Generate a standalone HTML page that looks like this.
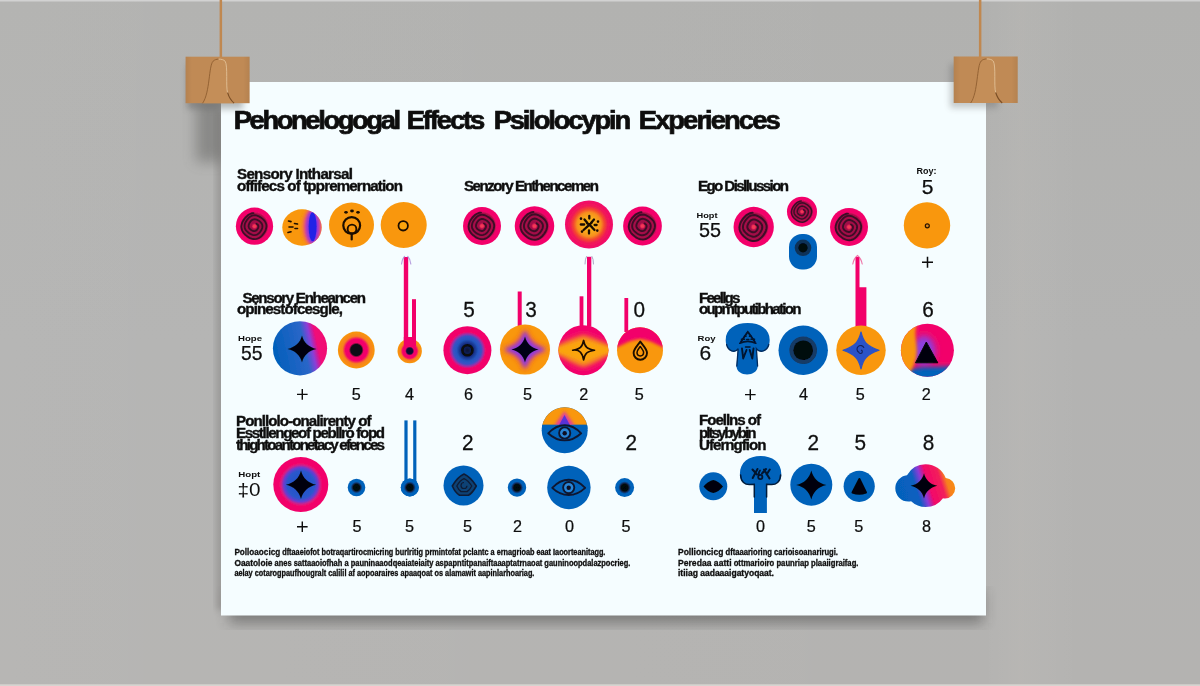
<!DOCTYPE html>
<html><head><meta charset="utf-8">
<style>
html,body{margin:0;padding:0;background:#b2b2b0;}
body{width:1200px;height:686px;overflow:hidden;font-family:"Liberation Sans",sans-serif;}
svg{display:block}
text{font-family:"Liberation Sans",sans-serif;fill:#0b0b0b}
.h{font-weight:bold;font-size:14px;stroke:#0b0b0b;stroke-width:0.35px}
.n{font-size:21px;stroke:#0b0b0b;stroke-width:0.25px}
.n2{font-size:22.6px;stroke:#0b0b0b;stroke-width:0.25px}
.l{font-size:16.2px;stroke:#0b0b0b;stroke-width:0.2px}
.s{font-size:8px;font-weight:bold}
.f{font-size:8.5px;font-weight:bold;stroke:#0b0b0b;stroke-width:0.3px}
</style></head><body>
<svg width="1200" height="686" viewBox="0 0 1200 686">
<defs>
<linearGradient id="wall" x1="0" y1="0" x2="0" y2="1"><stop offset="0" stop-color="#b1b1af"/><stop offset="0.5" stop-color="#b3b3b2"/><stop offset="1" stop-color="#b4b3b1"/></linearGradient><linearGradient id="wall2" x1="0" y1="0" x2="1" y2="0"><stop offset="0" stop-color="#ffffff" stop-opacity="0.04"/><stop offset="0.15" stop-color="#ffffff" stop-opacity="0.03"/><stop offset="0.82" stop-color="#ffffff" stop-opacity="0"/><stop offset="0.85" stop-color="#fff0e0" stop-opacity="0.05"/><stop offset="0.9" stop-color="#ffffff" stop-opacity="0"/></linearGradient>
<filter id="sh" x="-10%" y="-10%" width="120%" height="130%"><feGaussianBlur stdDeviation="7"/></filter>
<filter id="sh5" x="-30%" y="-60%" width="160%" height="220%"><feGaussianBlur stdDeviation="5"/></filter>
<filter id="sh7" x="-100%" y="-50%" width="300%" height="200%"><feGaussianBlur stdDeviation="7"/></filter>
<filter id="sh2" x="-30%" y="-30%" width="160%" height="180%"><feGaussianBlur stdDeviation="3"/></filter>
<filter id="b1"><feGaussianBlur stdDeviation="0.45"/></filter>
<filter id="b2" x="-50%" y="-50%" width="200%" height="200%"><feGaussianBlur stdDeviation="2"/></filter>
<filter id="b15" x="-50%" y="-50%" width="200%" height="200%"><feGaussianBlur stdDeviation="1.5"/></filter>
<filter id="b3" x="-50%" y="-50%" width="200%" height="200%"><feGaussianBlur stdDeviation="3"/></filter>
<filter id="b4" x="-50%" y="-50%" width="200%" height="200%"><feGaussianBlur stdDeviation="4.5"/></filter>
<radialGradient id="gSun"><stop offset="0" stop-color="#fbbc1c"/><stop offset="0.3" stop-color="#f9aa1c"/><stop offset="0.5" stop-color="#f7901f"/><stop offset="0.64" stop-color="#f4482e"/><stop offset="0.78" stop-color="#f01858"/><stop offset="1" stop-color="#f2066a"/></radialGradient>
<linearGradient id="gBP" x1="0" y1="0.22" x2="1" y2="0"><stop offset="0" stop-color="#0560bc"/><stop offset="0.5" stop-color="#2a66c8"/><stop offset="0.63" stop-color="#8a3fd8"/><stop offset="0.74" stop-color="#f0087a"/><stop offset="1" stop-color="#f2066a"/></linearGradient>
<radialGradient id="gOPK"><stop offset="0" stop-color="#0a0812"/><stop offset="0.3" stop-color="#0a0812"/><stop offset="0.4" stop-color="#f2066a"/><stop offset="0.6" stop-color="#f2066a"/><stop offset="0.75" stop-color="#f6801f"/><stop offset="1" stop-color="#f99709"/></radialGradient>
<radialGradient id="gOPK2"><stop offset="0" stop-color="#0a0a2a"/><stop offset="0.24" stop-color="#10103a"/><stop offset="0.36" stop-color="#f2066a"/><stop offset="0.58" stop-color="#f2066a"/><stop offset="0.75" stop-color="#f6801f"/><stop offset="1" stop-color="#f99709"/></radialGradient>
<radialGradient id="gPBK"><stop offset="0" stop-color="#0a1230"/><stop offset="0.28" stop-color="#152c80"/><stop offset="0.45" stop-color="#2456c0"/><stop offset="0.58" stop-color="#3a52c4"/><stop offset="0.67" stop-color="#9a30a8"/><stop offset="0.76" stop-color="#f2066a"/><stop offset="1" stop-color="#f2066a"/></radialGradient>
<radialGradient id="gPB3"><stop offset="0" stop-color="#2050c8"/><stop offset="0.5" stop-color="#2a58cc"/><stop offset="0.62" stop-color="#6a3cd0"/><stop offset="0.71" stop-color="#d0208a"/><stop offset="0.78" stop-color="#f2066a"/><stop offset="1" stop-color="#f2066a"/></radialGradient>
<linearGradient id="gBlob" x1="0" y1="0" x2="1" y2="0" gradientTransform="rotate(-13 0.5 0.5)"><stop offset="0" stop-color="#0562ba"/><stop offset="0.36" stop-color="#0860c0"/><stop offset="0.47" stop-color="#8a3ad8"/><stop offset="0.56" stop-color="#f2066a"/><stop offset="0.74" stop-color="#f2205a"/><stop offset="0.82" stop-color="#f7801e"/><stop offset="1" stop-color="#f99709"/></linearGradient>
<g id="eye">
  <path d="M-16.5,0.3 C-10,-6.5 -4,-7.8 0,-7.8 C5,-7.8 11,-5.5 16.5,0.3 C11,5.5 5,7.4 0,7.4 C-4,7.4 -10,6.5 -16.5,0.3Z" fill="none" stroke="#0b1830" stroke-width="1.9" stroke-linejoin="round"/>
  <circle cx="0" cy="0" r="5.6" fill="#2a84d6" stroke="#0b1830" stroke-width="1.9"/>
  <circle cx="0" cy="0.2" r="2.2" fill="#0b1020"/>
</g>
<radialGradient id="gOPK3"><stop offset="0" stop-color="#0a0a2a"/><stop offset="0.4" stop-color="#10103a"/><stop offset="0.6" stop-color="#f2066a"/><stop offset="1" stop-color="#f2066a"/></radialGradient>
<radialGradient id="gDot"><stop offset="0" stop-color="#05060a"/><stop offset="0.36" stop-color="#06080e"/><stop offset="0.5" stop-color="#0a2e60"/><stop offset="0.66" stop-color="#0562ba"/><stop offset="1" stop-color="#0562ba"/></radialGradient>
<!-- gradients -->
<radialGradient id="gPinkSp"><stop offset="0" stop-color="#f03a5a"/><stop offset="0.1" stop-color="#d81c54"/><stop offset="0.17" stop-color="#a00a46"/><stop offset="0.68" stop-color="#aa0a4a"/><stop offset="0.77" stop-color="#f2066a"/><stop offset="1" stop-color="#f3066a"/></radialGradient>
<g id="spiral">
  <circle r="19" fill="url(#gPinkSp)"/>
  <path d="M2.0,-2.5 L2.4,-2.3 L2.7,-2.0 L3.1,-1.7 L3.4,-1.4 L3.7,-1.0 L3.9,-0.5 L4.0,-0.0 L4.0,0.5 L3.9,1.0 L3.8,1.5 L3.6,2.0 L3.3,2.5 L3.1,2.9 L2.7,3.4 L2.3,3.9 L1.9,4.3 L1.4,4.6 L0.8,4.8 L0.2,5.0 L-0.5,5.0 L-1.1,4.9 L-1.7,4.7 L-2.3,4.5 L-2.9,4.2 L-3.5,3.8 L-4.0,3.4 L-4.6,3.0 L-5.1,2.4 L-5.5,1.8 L-5.8,1.1 L-6.0,0.4 L-6.0,-0.4 L-5.9,-1.2 L-5.7,-1.9 L-5.4,-2.6 L-5.1,-3.3 L-4.7,-4.0 L-4.2,-4.6 L-3.7,-5.3 L-3.1,-5.8 L-2.3,-6.4 L-1.5,-6.7 L-0.7,-7.0 L0.2,-7.1 L1.1,-7.0 L2.0,-6.7 L2.8,-6.4 L3.6,-6.0 L4.4,-5.5 L5.2,-5.0 L5.9,-4.4 L6.6,-3.7 L7.2,-2.9 L7.7,-2.0 L8.0,-1.0 L8.1,0.0 L8.0,1.0 L7.8,2.0 L7.4,3.0 L7.0,3.9 L6.4,4.8 L5.8,5.7 L5.2,6.5 L4.4,7.3 L3.5,8.0 L2.5,8.5 L1.4,8.9 L0.3,9.1 L-0.9,9.1 L-2.0,8.8 L-3.1,8.4 L-4.2,7.9 L-5.2,7.4 L-6.1,6.7 L-7.0,6.0 L-7.9,5.1 L-8.7,4.2 L-9.4,3.1 L-9.9,1.9 L-10.1,0.6 L-10.1,-0.7 L-9.9,-1.9 L-9.5,-3.2 L-9.0,-4.3 L-8.3,-5.4 L-7.6,-6.5 L-6.8,-7.5 L-5.9,-8.5 L-4.9,-9.4 L-3.7,-10.2 L-2.4,-10.8 L-1.0,-11.1 L0.4,-11.2 L1.8,-11.0 L3.2,-10.6 L4.5,-10.0 L5.7,-9.3 L6.9,-8.6 L8.0,-7.7 L9.1,-6.7 L10.1,-5.6 L11.0,-4.4 L11.6,-3.0 L12.1,-1.5 L12.2,0.0 L12.0,1.6 L11.6,3.1 L11.1,4.5 L10.3,5.9 L9.5,7.2 L8.6,8.4 L7.6,9.6 L6.4,10.7 L5.1,11.7 L3.7,12.5 L2.0,13.0 L0.4,13.2 L-1.3,13.1 L-3.0,12.7 L-4.5,12.1 L-5.9,11.4 L-7.1,10.6 L-8.3,9.6 L-9.4,8.7 L-10.5,7.6 L-11.5,6.4 L-12.3,5.0 L-12.9,3.6 L-13.3,2.1 L-13.5,0.5 L-13.3,-1.1 L-12.9,-2.6 L-12.4,-4.1 L-11.7,-5.4 L-10.8,-6.7 L-10.0,-7.9 L-9.0,-9.0 L-7.9,-10.1 L-6.8,-11.2 L-5.5,-12.0 L-4.1,-12.7 L-2.6,-13.2 L-1.0,-13.4" fill="none" stroke="#3e0a28" stroke-width="1.9" stroke-linecap="round"/>
  <circle r="1.8" fill="#f23a55"/>
</g>
<path id="star4" d="M0,-14 C1.8,-6.5 6.5,-1.8 14,0 C6.5,1.8 1.8,6.5 0,14 C-1.8,6.5 -6.5,1.8 -14,0 C-6.5,-1.8 -1.8,-6.5 0,-14Z"/>
<g id="clip">
  <rect x="0" y="0" width="64" height="46.5" fill="#c08a55"/>
  <rect x="0" y="0" width="64" height="46.5" fill="url(#clipsh)"/>
  <path d="M17,46.5 C24.5,36 23,9 27.5,4.5 C30,1.8 37,1.8 39.5,4.5 C42.5,9 40,30 42,36 C43.5,41 45.5,44 48.5,46.5Z" fill="#c48e58"/>
  <path d="M17,46.5 C24.5,36 23,9 27.5,4.5 C29,3 31,2.5 33,2.4" fill="none" stroke="#8e5e30" stroke-width="0.9"/>
  <path d="M33,2.4 C36,2.4 38.5,3.2 39.5,4.5 C42.5,9 40,30 42,36" fill="none" stroke="#e6c8a0" stroke-width="0.8"/>
  <path d="M42,36 C43.5,41 45.5,44 48.5,46.5" fill="none" stroke="#7a4e26" stroke-width="1.1"/>
</g>
<linearGradient id="clipsh" x1="0" y1="0" x2="1" y2="0"><stop offset="0" stop-color="#000" stop-opacity="0.06"/><stop offset="0.1" stop-color="#000" stop-opacity="0"/><stop offset="0.9" stop-color="#000" stop-opacity="0"/><stop offset="1" stop-color="#000" stop-opacity="0.06"/></linearGradient>
</defs>
<rect width="1200" height="686" fill="url(#wall)"/><rect width="1200" height="686" fill="url(#wall2)"/>
<rect x="0" y="0" width="1200" height="1.5" fill="#d2d2d2"/>
<rect x="0" y="684.3" width="1200" height="2" fill="#d6d4d0"/>
<!-- poster shadow -->
<rect x="229" y="590" width="754" height="33" fill="#2a2a2a" opacity="0.42" filter="url(#sh)"/>
<rect x="216" y="110" width="10" height="500" fill="#6a6866" opacity="0.35" filter="url(#sh2)"/>
<rect x="196" y="100" width="28" height="62" fill="#4a4846" opacity="0.4" filter="url(#sh7)"/>
<!-- poster -->
<rect x="221" y="82" width="765" height="533.5" fill="#f5fdff"/>
<!-- strings -->
<rect x="219.6" y="0" width="2.5" height="58" fill="#c08850"/>
<rect x="978.9" y="0" width="2.5" height="58" fill="#c08850"/>
<!-- clips -->
<rect x="187" y="64" width="56" height="45" fill="#555" opacity="0.4" filter="url(#sh2)"/>
<rect x="950" y="64" width="48" height="44" fill="#555" opacity="0.3" filter="url(#sh2)"/>
<use href="#clip" x="185.6" y="56.7"/>
<use href="#clip" x="953.7" y="56.5"/>

<g id="content" filter="url(#b1)">
<!-- title -->
<g font-size="25.6" font-weight="bold" stroke="#0b0b0b" stroke-width="0.7">
<text transform="translate(233.7,128.8) scale(1.07,1)" textLength="156.5" lengthAdjust="spacing">Pehonelogogal</text>
<text transform="translate(406.7,128.8) scale(1.07,1)" textLength="73.4" lengthAdjust="spacing">Effects</text>
<text transform="translate(493.7,128.8) scale(1.07,1)" textLength="128.5" lengthAdjust="spacing">Psilolocypin</text>
<text transform="translate(638.7,128.8) scale(1.07,1)" textLength="132.7" lengthAdjust="spacing">Experiences</text>
</g>
<!-- section headings -->
<text class="h" transform="translate(237,178.8) scale(1.08,1)" textLength="107.4" lengthAdjust="spacing">Sensory Intharsal</text>
<text class="h" transform="translate(237,191.2) scale(1.08,1)" textLength="153.7" lengthAdjust="spacing">offifecs of tppremernation</text>
<text class="h" transform="translate(464,191.2) scale(1.08,1)" textLength="125.0" lengthAdjust="spacing">Senzory Enthencemen</text>
<text class="h" transform="translate(698,191.2) scale(1.08,1)" textLength="84.3" lengthAdjust="spacing">Ego Disllussion</text>
<text class="s" x="916.5" y="174" textLength="20" lengthAdjust="spacingAndGlyphs" style="font-size:9.5px">Roy:</text>
<text class="n" x="927.5" y="193.5" text-anchor="middle">5</text>
<text class="s" x="696.5" y="217.5" textLength="21" lengthAdjust="spacingAndGlyphs">Hopt</text>
<text class="n" x="699" y="236.5" textLength="22" lengthAdjust="spacingAndGlyphs">55</text>

<!-- ROW 1 group 1 -->
<use href="#spiral" transform="translate(254.5,226.2) scale(0.98)"/>
<g>
  <ellipse cx="302" cy="227.5" rx="19.7" ry="18.2" fill="#f99709"/>
  <clipPath id="cp2"><ellipse cx="302" cy="227.5" rx="19.7" ry="18.2"/></clipPath>
  <g clip-path="url(#cp2)">
    <ellipse cx="312.5" cy="227" rx="9" ry="18" fill="#e8409a" filter="url(#b2)"/>
    <ellipse cx="312.5" cy="227" rx="6.5" ry="16.5" fill="#8a35e0" filter="url(#b15)"/>
    <ellipse cx="312.6" cy="226.8" rx="4" ry="14.5" fill="#2222e6" filter="url(#b1)"/>
  </g>
  <g stroke="#1a0d05" stroke-width="1.6" stroke-linecap="round" fill="none">
    <path d="M288.5,221 l2.5,0.6"/><path d="M294.5,223.5 l3,0.5"/>
    <path d="M289,227 l4,0"/><path d="M295,228.5 l2.5,0"/>
    <path d="M288,232.5 l3,-0.8"/>
  </g>
</g>
<g>
  <circle cx="351.5" cy="225" r="22.5" fill="#f99709"/>
  <circle cx="351.7" cy="225.5" r="8.4" fill="none" stroke="#1a0d05" stroke-width="2.2"/>
  <circle cx="352" cy="229" r="4.4" fill="none" stroke="#1a0d05" stroke-width="1.9"/>
  <path d="M351.7,233.5 v6" stroke="#1a0d05" stroke-width="2.2" stroke-linecap="round"/>
  <g fill="#1a0d05"><ellipse cx="346" cy="212.3" rx="1.8" ry="1.4"/><ellipse cx="352" cy="211" rx="1.9" ry="1.4"/><ellipse cx="358" cy="212.3" rx="1.8" ry="1.4"/></g>
</g>
<g>
  <circle cx="403.7" cy="225" r="23" fill="#f99709"/>
  <circle cx="403.2" cy="225.8" r="4.7" fill="#fba40c" stroke="#1a0d05" stroke-width="1.8"/>
</g>
<!-- ROW 1 group 2 -->
<use href="#spiral" transform="translate(482,226)"/>
<use href="#spiral" transform="translate(534.5,226) scale(1.04)"/>
<g>
  <circle cx="589" cy="224.5" r="24" fill="url(#gSun)"/>
  <g stroke="#1a0d05" stroke-width="2.3" stroke-linecap="round" fill="none">
    <path d="M584.5,219.5 l2.5,3"/><path d="M594,219.5 l-2.6,3"/><path d="M583.5,230 l3,-2.6"/><path d="M594.5,230 l-2.6,-2.8"/>
    <path d="M589.3,216 v2.6"/><path d="M589,230.5 v3"/><path d="M580.8,224.5 h3.4"/><path d="M594.6,225 h2"/>
    <path d="M587,223 l4.5,3.6 M591.5,222.8 l-4.5,4"/>
    <path d="M581,218.6 v0.1 M598,221.5 v0.1 M582,231.5 v0.1 M597.3,230.5 v0.1" stroke-width="2.6"/>
  </g>
</g>
<use href="#spiral" transform="translate(642.5,226) scale(1.02)"/>
<!-- ROW 1 group 3 -->
<use href="#spiral" transform="translate(753.7,227) scale(1.06)"/>
<use href="#spiral" transform="translate(802,211.7) scale(0.79)"/>
<use href="#spiral" transform="translate(849,227) scale(1.0)"/>
<g>
  <rect x="789" y="234" width="28" height="35.5" rx="13" ry="13" fill="#0562ba"/>
  <circle cx="803" cy="247.8" r="8.3" fill="#0c3358"/>
  <circle cx="803" cy="247.8" r="4.6" fill="#05080e" filter="url(#b1)"/>
  
</g>
<g>
  <circle cx="927" cy="225.4" r="23.2" fill="#f99709"/>
  <circle cx="927.3" cy="225.8" r="2" fill="#e08a1a" stroke="#2a1405" stroke-width="1.2"/>
</g>
<path d="M922,262.3 h11 M927.5,256.8 v11" stroke="#0b0b0b" stroke-width="1.5" fill="none"/>
<!-- arrows / lines row1->row2 -->
<g fill="#f2066a">
  <rect x="403.8" y="257" width="4.4" height="86"/>
  <rect x="412" y="299.2" width="4" height="44"/>
  <rect x="404" y="339.5" width="12" height="4"/>
  <rect x="517.7" y="291.5" width="4" height="35"/>
  <rect x="579.6" y="296.3" width="3.8" height="30"/>
  <rect x="587" y="256.8" width="4.3" height="70"/>
  <rect x="624.4" y="298" width="3.8" height="34"/>
  <path d="M855.5,257 h4 v30.3 h6.9 v40 h-10.9z"/>
</g>
<g fill="none" stroke-linecap="round">
  <path d="M401.5,264 q0.5,-5 3,-7.5 M410.8,264 q-0.5,-5 -3,-7.5" stroke="#a98ad6" stroke-width="1.2" opacity="0.8"/>
  <path d="M585,264 q0,-5 1.5,-7.5 M593.5,264 q0,-5 -1.5,-7.5" stroke="#9a90b8" stroke-width="1" opacity="0.8"/>
  <path d="M852.8,264 q1,-5.5 4.7,-8.5 q3.7,3 4.7,8.5" stroke="#ee5a98" stroke-width="1.1" opacity="0.85"/>
</g>
<!-- ROW 2 headings -->
<text class="h" transform="translate(242.5,302.5) scale(1.08,1)" textLength="114.4" lengthAdjust="spacing">Sensory Enheancen</text>
<text class="h" transform="translate(237,314) scale(1.08,1)" textLength="98.1" lengthAdjust="spacing">opinestofcesgle,</text>
<text class="s" x="238" y="340.5" textLength="24" lengthAdjust="spacingAndGlyphs">Hope</text>
<text class="n" x="241" y="359.6" textLength="21.5" lengthAdjust="spacingAndGlyphs">55</text>
<text class="h" transform="translate(699,302.5) scale(1.08,1)" textLength="38.4" lengthAdjust="spacing">Feellgs</text>
<text class="h" transform="translate(699,314.3) scale(1.08,1)" textLength="94.9" lengthAdjust="spacing">oupmtputibhation</text>
<text class="s" x="697.5" y="340.5" textLength="18" lengthAdjust="spacingAndGlyphs">Roy</text>
<text class="n" x="705.3" y="360" text-anchor="middle">6</text>
<!-- numbers above row2 -->
<g class="n2" text-anchor="middle">
<text transform="translate(469,316.5) scale(0.92,1)">5</text><text transform="translate(531,316.5) scale(0.92,1)">3</text><text transform="translate(639.3,316.5) scale(0.92,1)">0</text><text transform="translate(928,316.5) scale(0.92,1)">6</text>
</g>
<!-- ROW 2 circles -->
<g>
  <circle cx="300" cy="348.3" r="27.1" fill="url(#gBP)"/>
  <use href="#star4" transform="translate(302,349) scale(1.04,0.96)" fill="#060608"/>
</g>
<g>
  <circle cx="356.3" cy="350" r="18.4" fill="url(#gOPK)"/>
</g>
<g>
  <circle cx="409.7" cy="351" r="12.2" fill="url(#gOPK2)"/>
  <path d="M403.8,337 h12.2 v9 h-12.2z" fill="#f2066a"/>
  <circle cx="409.7" cy="351" r="7.6" fill="url(#gOPK3)"/>
</g>
<g>
  <circle cx="467.4" cy="350.2" r="24" fill="url(#gPBK)"/>
  <circle cx="467.4" cy="350.2" r="5" fill="none" stroke="#07090f" stroke-width="2.6"/>
</g>
<g>
  <circle cx="525" cy="349.6" r="25" fill="#f99709"/>
  <use href="#star4" transform="translate(525,349.6) scale(1.62,1.5)" fill="#f0306a" filter="url(#b2)" opacity="0.85"/>
  <use href="#star4" transform="translate(525,349.6) scale(1.36,1.25)" fill="#8c3be0" stroke="#8c3be0" stroke-width="2" filter="url(#b15)"/>
  <use href="#star4" transform="translate(525,349.6) scale(0.97,0.93)" fill="#060612"/>
</g>
<g>
  <clipPath id="cp6"><circle cx="583.4" cy="350.2" r="25"/></clipPath>
  <circle cx="583.4" cy="350.2" r="25" fill="#f2066a"/>
  <g clip-path="url(#cp6)">
    <path d="M555,346 C565,342 572,338 583.4,335 C595,338 602,342 612,346 L612,354 C602,358 595,364 583.4,367 C572,364 565,358 555,354Z" fill="#f68a20" filter="url(#b2)"/>
    <path d="M557,348 C568,345 574,342 583.4,340 C593,342 599,345 610,348 L610,352 C599,355 593,359 583.4,362 C574,359 568,355 557,352Z" fill="#fba40c" filter="url(#b15)"/>
  </g>
  <path transform="translate(583.6,350.2) scale(0.78,0.7)" d="M0,-14 C1.5,-4.5 4.5,-1.5 14,0 C4.5,1.5 1.5,4.5 0,14 C-1.5,4.5 -4.5,-1.5 -14,0 C-4.5,-1.5 -1.5,-4.5 0,-14Z" fill="none" stroke="#1a0d05" stroke-width="2.2" stroke-linejoin="round"/>
</g>
<g>
  <clipPath id="cp7"><circle cx="640" cy="350.2" r="23"/></clipPath>
  <circle cx="640" cy="350.2" r="23" fill="#f99709"/>
  <g clip-path="url(#cp7)">
    <path d="M612,320 H668 V349 C660,347 652,340 640,339 C628,340 620,347 612,349Z" fill="#f2066a" filter="url(#b15)"/>
  </g>
  <path d="M640.3,341.6 C636.8,346.5 633.6,349 633.6,353 a6.7,6.7 0 0 0 13.4,0 C647,349 643.8,346.5 640.3,341.6Z" fill="none" stroke="#1a0d05" stroke-width="1.9" stroke-linejoin="round"/>
  <path d="M640.3,346.5 C638.5,349 637,350.5 637,352.6 a3.3,3.3 0 0 0 6.6,0 C643.6,350.5 642,349 640.3,346.5Z" fill="none" stroke="#1a0d05" stroke-width="1.5" stroke-linejoin="round"/>
</g>
<!-- mushroom row2 -->
<g>
  <path d="M725.7,340 C725.7,329 735,323 747.7,323 C760.4,323 769.7,329 769.7,340 C769.7,347.5 765,352.3 760,351.6 C758,351.3 757,350.2 756.4,348.8 L757.7,366 C757.7,377.3 736.5,377.3 736.5,366 L737.9,348.8 C737.4,350.3 736.2,351.3 734.5,351.6 C730,352.3 725.7,347.5 725.7,340Z" fill="#0562ba"/>
  <path d="M726.6,344.5 C728,351 735,353.5 738.2,348.6 L736.8,366 M768.8,344.5 C767.4,351 760,353.5 756.4,348.6 L757.6,366" fill="none" stroke="#062a5c" stroke-width="1.3" stroke-linecap="round"/>
  <g stroke="#04122e" stroke-width="1.9" fill="none" stroke-linecap="round" stroke-linejoin="round">
    <path d="M747.8,331.8 L741,341.8 M747.8,331.8 L754.8,341.8"/>
    <path d="M744.5,336.2 h1.5 M749.5,336.2 h1.8 M741.5,339.2 h3 M751,339.2 h3.5 M746.8,339.5 h2" stroke-width="1.6"/>
    <path d="M739.8,343.2 q8,-3.5 16,0" stroke-width="1.7"/>
    <path d="M742,348.5 l1.2,10 l3.3,-8.5 M753.5,348.5 l-1.2,10 l-2.6,-8.5"/>
    <path d="M745.5,347 h4.5" stroke-width="1.5"/>
  </g>
</g>
<g>
  <circle cx="803.2" cy="350.3" r="24.7" fill="#0562ba"/>
  <circle cx="803.2" cy="350.3" r="13.8" fill="#123a66"/>
  <circle cx="803.2" cy="350.3" r="9.8" fill="#05070c"/>
</g>
<g>
  <circle cx="861" cy="350.3" r="24.7" fill="#f99709"/>
  <path d="M861,332 C863.2,342 867,346.3 879,350.3 C867,354.3 863.2,358.8 861,368.8 C858.8,358.8 855,354.3 843,350.3 C855,346.3 858.8,342 861,332Z" fill="#2a52c8" stroke="#2a52c8" stroke-width="1.2" stroke-linejoin="round"/>
  <path d="M861,350 a1.8,1.8 0 1 1 -2.2,2.2 a3.6,3.6 0 1 1 5.2,-4.3" fill="none" stroke="#13235e" stroke-width="1.1"/>
</g>
<g>
  <clipPath id="cp8"><circle cx="927.4" cy="350.3" r="26.5"/></clipPath>
  <circle cx="927.4" cy="350.3" r="26.5" fill="#f2066a"/>
  <g clip-path="url(#cp8)">
    <ellipse cx="924" cy="351" rx="11" ry="15" fill="#8a3fe0" filter="url(#b3)"/>
    <path d="M905,372 C915,365 935,368 955,366 V382 H900Z" fill="#0562ba" filter="url(#b2)"/>
    <path d="M898,320 H918 C912,335 919,345 916,358 C914,366 912,372 904,378 H898Z" fill="#f99709" filter="url(#b15)"/>
  </g>
  <path d="M926.3,342 L937.8,362.8 H915.5Z" fill="#06060a" stroke="#06060a" stroke-width="1" stroke-linejoin="round"/>
</g>
<!-- labels row2 -->
<g class="l" text-anchor="middle">
<text x="356.3" y="399.6">5</text><text x="409.6" y="399.6">4</text><text x="468.6" y="399.6">6</text><text x="527.6" y="399.6">5</text><text x="583.7" y="399.6">2</text><text x="639.3" y="399.6">5</text>
<text x="803.5" y="399.6">4</text><text x="860.3" y="399.6">5</text><text x="926.3" y="399.6">2</text>
</g>
<path d="M297,394.4 h10.6 M302.3,389.1 v10.6 M745,394.6 h10.6 M750.3,389.3 v10.6" stroke="#0b0b0b" stroke-width="1.4" fill="none"/>
<!-- ROW 3 headings -->
<text class="h" transform="translate(236,425.5) scale(1.08,1)" textLength="125.5" lengthAdjust="spacing">Ponllolo-onalirenty of</text>
<text class="h" transform="translate(236,438) scale(1.08,1)" textLength="138.0" lengthAdjust="spacing">Esstllengeof pebllro fopd</text>
<text class="h" transform="translate(236,450.3) scale(1.08,1)" textLength="138.0" lengthAdjust="spacing">thightoantonetacy efences</text>
<text class="s" x="238.3" y="477" textLength="22" lengthAdjust="spacingAndGlyphs">Hopt</text>
<text font-size="17.5" x="237.5" y="496.2" textLength="23" lengthAdjust="spacingAndGlyphs">‡0</text>
<text class="h" transform="translate(699,425.3) scale(1.08,1)" textLength="57.4" lengthAdjust="spacing">Foellns of</text>
<text class="h" transform="translate(699,437.5) scale(1.08,1)" textLength="53.2" lengthAdjust="spacing">pltsybybin</text>
<text class="h" transform="translate(699,450.2) scale(1.08,1)" textLength="62.5" lengthAdjust="spacing">Uferngfion</text>
<!-- numbers -->
<g class="n2" text-anchor="middle">
<text transform="translate(467.7,449.8) scale(0.92,1)">2</text><text transform="translate(631.2,449.8) scale(0.92,1)">2</text><text transform="translate(813.2,449.8) scale(0.92,1)">2</text><text transform="translate(860.3,449.8) scale(0.92,1)">5</text><text transform="translate(928.5,449.8) scale(0.92,1)">8</text>
</g>
<!-- thermometer blue -->
<g fill="#0562ba">
  <rect x="404.4" y="420.4" width="3.2" height="62"/>
  <rect x="413.2" y="420.4" width="3.2" height="62"/>
  <circle cx="409.8" cy="487.5" r="9"/>
</g>
<circle cx="409.8" cy="487.5" r="9" fill="url(#gDot)"/>
<!-- big pink/blue star -->
<g>
  <circle cx="300.8" cy="484.6" r="27.5" fill="url(#gPB3)"/>
  <use href="#star4" transform="translate(301,484.8) scale(1.08,1.02)" fill="#050508"/>
</g>
<circle cx="356.5" cy="487.5" r="8.8" fill="url(#gDot)"/>
<g>
  <circle cx="463.5" cy="485.4" r="20" fill="#0562ba"/>
  <g fill="none" stroke="#0a1c36" stroke-width="1.6" stroke-linejoin="round">
    <path d="M452.3,486 Q457.5,477 464,474 Q470.5,477 476.3,486 Q472.5,493 468.5,495.3 H459.5 Q455.5,493 452.3,486Z" fill="#114274"/>
    <path d="M456.8,486 Q460,480.3 464,478.6 Q468,480.3 471.8,486 Q469.5,490.3 467,491.6 H461 Q458.8,490.3 456.8,486Z" stroke-width="1.3"/>
    <path d="M464,482.5 a3,3 0 1 0 3,3.2" stroke-width="1.2"/>
  </g>
</g>
<circle cx="517" cy="487.6" r="9.2" fill="url(#gDot)"/>
<!-- eye top -->
<g>
  <clipPath id="cpE"><circle cx="564.7" cy="430.2" r="23"/></clipPath>
  <circle cx="564.7" cy="430.2" r="23" fill="#0562ba"/>
  <g clip-path="url(#cpE)">
    <rect x="540" y="405" width="50" height="19.8" fill="#f99709"/>
    <path d="M554,426 L564.5,411 L575,426Z" fill="#e0409a" filter="url(#b15)"/>
    <path d="M558,427 L564.5,415 L571,427Z" fill="#5a30d8" filter="url(#b1)"/>
    <rect x="540" y="424.8" width="50" height="4" fill="#0562ba" filter="url(#b1)"/>
  </g>
  <use href="#eye" transform="translate(564.7,433)"/>
</g>
<g>
  <circle cx="568.9" cy="487.5" r="21.7" fill="#0562ba"/>
  <use href="#eye" transform="translate(568.7,487.6)"/>
</g>
<circle cx="624.6" cy="487.6" r="9.5" fill="url(#gDot)"/>
<!-- right group row3 -->
<g>
  <circle cx="713.3" cy="486.3" r="14" fill="#0562ba"/>
  <path d="M703.5,486.5 Q708,481 713.3,480 Q718.5,481 723,486.5 Q718.5,492 713.3,493 Q708,492 703.5,486.5Z" fill="#06060a"/>
</g>
<g>
  <path d="M739.9,474 C739.9,462 749,456 760.6,456 C772.2,456 781.3,462 781.3,474 C781.3,481 777,484.7 771,484.5 L766.9,484.3 V513 H754 V484.3 L750,484.5 C744,484.7 739.9,481 739.9,474Z" fill="#0562ba"/>
  <path d="M740.6,475 C740.8,482 745,484.8 750,484.5 L754.3,484.3 V497 M780.6,475 C780.4,482 776,484.8 771,484.5 L766.6,484.3 V497" fill="none" stroke="#041a3a" stroke-width="1.5" stroke-linecap="round"/>
  <g stroke="#04122e" stroke-width="2" fill="none" stroke-linecap="round">
    <path d="M752.5,469.5 l4.5,5 M757.5,469 l-4.8,9"/>
    <path d="M766,469 l-4,4.5 M764,469.5 l5.5,9 M769.8,469.5 l-3.2,5"/>
    <circle cx="760.3" cy="477" r="2.1" stroke-width="1.8"/>
    <path d="M760,470.5 q-2,2.5 -0.8,4.5" stroke-width="1.7"/>
  </g>
</g>
<g>
  <circle cx="811.3" cy="484.7" r="21" fill="#0562ba"/>
  <use href="#star4" transform="translate(811.3,485) scale(1.08,1.04)" fill="#050508"/>
</g>
<g>
  <circle cx="859.2" cy="486.3" r="15.6" fill="#0562ba"/>
  <path d="M859.4,479 L866,492.5 Q859.2,495 852.5,492.5Z" fill="#06060a" stroke="#06060a" stroke-width="2" stroke-linejoin="round"/>
</g>
<g>
  <clipPath id="cpB"><circle cx="908.5" cy="488.3" r="13.2"/><circle cx="925.7" cy="485.6" r="21.4"/><circle cx="945" cy="488.2" r="10.2"/></clipPath>
  <g clip-path="url(#cpB)"><rect x="890" y="460" width="70" height="52" fill="url(#gBlob)"/></g>
  <use href="#star4" transform="translate(924,485.8) scale(0.95,0.9)" fill="#050508"/>
</g>
<!-- labels row3 -->
<g class="l" text-anchor="middle">
<text x="357" y="532">5</text><text x="409.6" y="532">5</text><text x="467.4" y="532">5</text><text x="517.6" y="532">2</text><text x="569.6" y="532">0</text><text x="626" y="532">5</text>
<text x="760.6" y="532">0</text><text x="811.3" y="532">5</text><text x="858.8" y="532">5</text><text x="926.6" y="532">8</text>
</g>
<path d="M297,526.7 h10.6 M302.3,521.4 v10.6" stroke="#0b0b0b" stroke-width="1.4" fill="none"/>
<!-- footnotes -->
<g class="f">
<text x="234.4" y="555" textLength="371" lengthAdjust="spacingAndGlyphs"><tspan font-size="9.5">Polloaocicg</tspan> dftaaeiofot botraqartirocmicring burlritig prmintofat pclantc a ernagrioab eaat Iaoorteanitagg.</text>
<text x="234.4" y="565.6" textLength="396" lengthAdjust="spacingAndGlyphs"><tspan font-size="9.5">Oaatoloie</tspan> anes sattaaoiofhah a pauninaaodqeaiateiaity aspapntitpanaiftaaaptatrnaoat gauninoopdalazpocrieg.</text>
<text x="234.4" y="576" textLength="300" lengthAdjust="spacingAndGlyphs">aelay cotarogpaufhougralt calilil af aopoaraires apaaqoat os alamawit aapinlarhoariag.</text>
<text x="678" y="555" textLength="160" lengthAdjust="spacingAndGlyphs"><tspan font-size="9.5">Pollioncicg</tspan> dftaaarioring carioisoanarirugi.</text>
<text x="678" y="565.6" textLength="180.5" lengthAdjust="spacingAndGlyphs"><tspan font-size="9.5">Peredaa aatti</tspan> ottmarioiro paunriap plaaiigraifag.</text>
<text x="678" y="576" textLength="96" lengthAdjust="spacingAndGlyphs">itiiag aadaaaigatyoqaat.</text>
</g>


</g>
</svg>
</body></html>
